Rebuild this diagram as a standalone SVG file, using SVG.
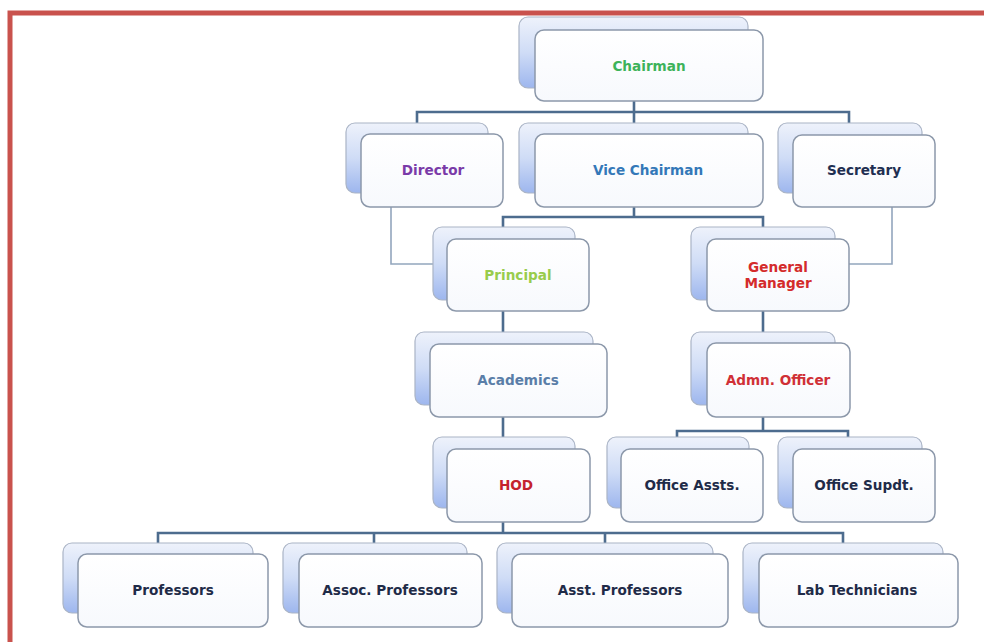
<svg xmlns="http://www.w3.org/2000/svg" width="984" height="642" viewBox="0 0 984 642">
<defs>
<linearGradient id="bg" x1="0" y1="0" x2="0" y2="1">
<stop offset="0" stop-color="#eef2fb"/>
<stop offset="0.5" stop-color="#cfdcf6"/>
<stop offset="1" stop-color="#9db6ee"/>
</linearGradient>
<linearGradient id="fg" x1="0" y1="0" x2="0" y2="1">
<stop offset="0" stop-color="#ffffff"/>
<stop offset="1" stop-color="#f7f9fd"/>
</linearGradient>
</defs>
<style>
.back{fill:url(#bg);stroke:#aab4c6;stroke-width:1.2}
.front{fill:url(#fg);stroke:#8c98aa;stroke-width:1.5}
.lbl{font-family:"DejaVu Sans","Liberation Sans",sans-serif;font-weight:bold;font-size:13.6px;text-anchor:middle;dominant-baseline:central}
.conn{fill:none;stroke:#4d6c8e;stroke-width:2.6}
.thin{fill:none;stroke:#93a6bd;stroke-width:1.6}
</style>
<rect x="0" y="0" width="984" height="642" fill="#ffffff"/>
<rect x="10" y="13" width="1000" height="660" fill="none" stroke="#c9524d" stroke-width="5"/>
<g id="connectors">
<path class="conn" d="M634 101V112M417 123V112H849V123M634 112V123"/>
<path class="conn" d="M634 207V217M503 227V217H763V227"/>
<path class="thin" d="M391 207V264H447"/>
<path class="thin" d="M892 207V264H849"/>
<path class="conn" d="M503 311V332M503 417V437"/>
<path class="conn" d="M763 311V332"/>
<path class="conn" d="M763 417V431M677 437V431H848V437"/>
<path class="conn" d="M503 522V533M158 543V533H843V543M374 533V543M605 533V543"/>
</g>
<g id="chairman"><rect class="back" x="519" y="17" width="229" height="71" rx="9"/><rect class="front" x="535" y="30" width="228" height="71" rx="9"/><text class="lbl" x="649" y="66" fill="#3db35a">Chairman</text></g>
<g id="director"><rect class="back" x="346" y="123" width="142" height="70" rx="9"/><rect class="front" x="361" y="134" width="142" height="73" rx="9"/><text class="lbl" x="433" y="170" fill="#7a3aa8">Director</text></g>
<g id="vice-chairman"><rect class="back" x="519" y="123" width="229" height="70" rx="9"/><rect class="front" x="535" y="134" width="228" height="73" rx="9"/><text class="lbl" x="648" y="170" fill="#3478b8">Vice Chairman</text></g>
<g id="secretary"><rect class="back" x="778" y="123" width="144" height="70" rx="9"/><rect class="front" x="793" y="135" width="142" height="72" rx="9"/><text class="lbl" x="864" y="170" fill="#1f2f52">Secretary</text></g>
<g id="principal"><rect class="back" x="433" y="227" width="142" height="73" rx="9"/><rect class="front" x="447" y="239" width="142" height="72" rx="9"/><text class="lbl" x="518" y="275" fill="#98cc4c">Principal</text></g>
<g id="general-manager"><rect class="back" x="691" y="227" width="144" height="73" rx="9"/><rect class="front" x="707" y="239" width="142" height="72" rx="9"/><text class="lbl" x="778" y="267" fill="#d42b2b">General</text><text class="lbl" x="778" y="283" fill="#d42b2b">Manager</text></g>
<g id="academics"><rect class="back" x="415" y="332" width="178" height="73" rx="9"/><rect class="front" x="430" y="344" width="177" height="73" rx="9"/><text class="lbl" x="518" y="380" fill="#5a7ea8">Academics</text></g>
<g id="admn-officer"><rect class="back" x="691" y="332" width="144" height="73" rx="9"/><rect class="front" x="707" y="343" width="143" height="74" rx="9"/><text class="lbl" x="778" y="380" fill="#d03036">Admn. Officer</text></g>
<g id="hod"><rect class="back" x="433" y="437" width="142" height="71" rx="9"/><rect class="front" x="447" y="449" width="143" height="73" rx="9"/><text class="lbl" x="516" y="485" fill="#c4222e">HOD</text></g>
<g id="office-assts"><rect class="back" x="607" y="437" width="142" height="71" rx="9"/><rect class="front" x="621" y="449" width="142" height="73" rx="9"/><text class="lbl" x="692" y="485" fill="#1f2b48">Office Assts.</text></g>
<g id="office-supdt"><rect class="back" x="778" y="437" width="144" height="71" rx="9"/><rect class="front" x="793" y="449" width="142" height="73" rx="9"/><text class="lbl" x="864" y="485" fill="#1f2b48">Office Supdt.</text></g>
<g id="professors"><rect class="back" x="63" y="543" width="190" height="70" rx="9"/><rect class="front" x="78" y="554" width="190" height="73" rx="9"/><text class="lbl" x="173" y="590" fill="#1f2b48">Professors</text></g>
<g id="assoc-professors"><rect class="back" x="283" y="543" width="184" height="70" rx="9"/><rect class="front" x="299" y="554" width="183" height="73" rx="9"/><text class="lbl" x="390" y="590" fill="#1f2b48">Assoc. Professors</text></g>
<g id="asst-professors"><rect class="back" x="497" y="543" width="216" height="70" rx="9"/><rect class="front" x="512" y="554" width="216" height="73" rx="9"/><text class="lbl" x="620" y="590" fill="#1f2b48">Asst. Professors</text></g>
<g id="lab-technicians"><rect class="back" x="743" y="543" width="200" height="70" rx="9"/><rect class="front" x="759" y="554" width="199" height="73" rx="9"/><text class="lbl" x="857" y="590" fill="#1f2b48">Lab Technicians</text></g>
</svg>
